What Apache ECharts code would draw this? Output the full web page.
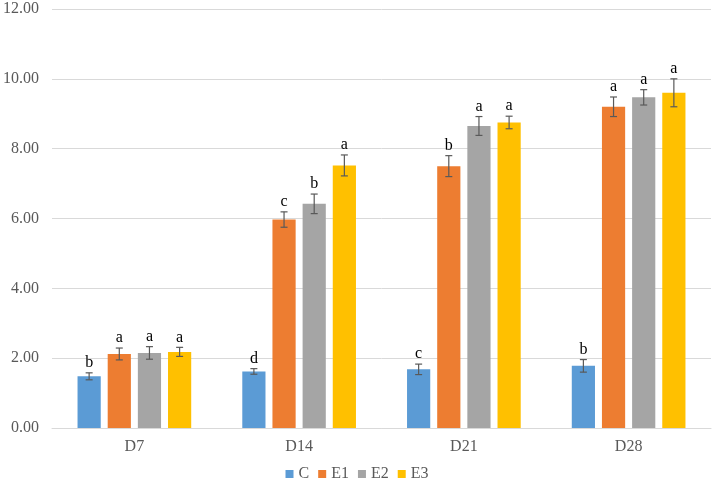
<!DOCTYPE html>
<html><head><meta charset="utf-8">
<script src="https://cdn.jsdelivr.net/npm/echarts@6/dist/echarts.min.js"></script>
<style>html,body{margin:0;padding:0;background:#fff}#c{width:714px;height:488px}</style>
</head><body><div id="c"></div>
<script>
var categories = ['D7', 'D14', 'D21', 'D28'];
var seriesNames = ['C', 'E1', 'E2', 'E3'];
var colors = ['#5B9BD5', '#ED7D31', '#A5A5A5', '#FFC000'];
var valC  = [1.48, 1.62, 1.68, 1.78];
var valE1 = [2.12, 5.97, 7.50, 9.20];
var valE2 = [2.15, 6.42, 8.65, 9.47];
var valE3 = [2.18, 7.52, 8.75, 9.60];
var errC  = [0.10, 0.08, 0.15, 0.18];
var errE1 = [0.17, 0.22, 0.30, 0.28];
var errE2 = [0.18, 0.28, 0.27, 0.22];
var errE3 = [0.13, 0.30, 0.18, 0.40];
var letC  = ['b', 'd', 'c', 'b'];
var letE1 = ['a', 'c', 'b', 'a'];
var letE2 = ['a', 'b', 'a', 'a'];
var letE3 = ['a', 'a', 'a', 'a'];
var yTicks = [0, 2, 4, 6, 8, 10, 12];

var vals = [valC, valE1, valE2, valE3];
var errs = [errC, errE1, errE2, errE3];
var lets = [letC, letE1, letE2, letE3];
var CAT_GAP = 0.31, BAR_GAP = 0.30;

var errData = [];
for (var s = 0; s < 4; s++) {
  for (var i = 0; i < categories.length; i++) {
    errData.push([i, vals[s][i] - errs[s][i], vals[s][i] + errs[s][i], s, lets[s][i]]);
  }
}

var font = 'Liberation Serif, Times New Roman, serif';
var series = seriesNames.map(function (n, s) {
  return {
    name: n, type: 'bar', data: vals[s],
    barGap: (BAR_GAP * 100) + '%', barCategoryGap: (CAT_GAP * 100) + '%',
    itemStyle: { color: colors[s] }
  };
});
series.push({
  type: 'custom', name: 'err', silent: true, z: 10,
  encode: { x: 0, y: [1, 2] },
  data: errData,
  renderItem: function (params, api) {
    var ci = api.value(0), lo = api.value(1), hi = api.value(2), s = api.value(3);
    var letter = errData[params.dataIndex][4];
    var W = api.size([1, 0])[0];
    var band = W * (1 - CAT_GAP);
    var w = band / (4 + 3 * BAR_GAP);
    var off = -band / 2 + s * w * (1 + BAR_GAP) + w / 2;
    var pLo = api.coord([ci, lo]), pHi = api.coord([ci, hi]);
    var x = pLo[0] + off, cap = 3.5;
    var st = { stroke: '#595959', lineWidth: 1.2 };
    return {
      type: 'group', children: [
        { type: 'line', shape: { x1: x, y1: pLo[1], x2: x, y2: pHi[1] }, style: st },
        { type: 'line', shape: { x1: x - cap, y1: pLo[1], x2: x + cap, y2: pLo[1] }, style: st },
        { type: 'line', shape: { x1: x - cap, y1: pHi[1], x2: x + cap, y2: pHi[1] }, style: st },
        { type: 'text', style: { x: x, y: pHi[1] - 2, text: letter, textAlign: 'center', textVerticalAlign: 'bottom',
          font: '16px ' + font, fill: '#000' } }
      ]
    };
  }
});

var chart = echarts.init(document.getElementById('c'), null, { renderer: 'canvas' });
chart.setOption({
  animation: false,
  backgroundColor: '#fff',
  grid: { left: 50, right: 3, top: 9, bottom: 60, containLabel: false },
  legend: {
    data: seriesNames, bottom: 1, left: 'center', itemWidth: 8, itemHeight: 8, itemGap: 9,
    icon: 'rect', textStyle: { color: '#595959', fontFamily: font, fontSize: 16 }
  },
  xAxis: {
    type: 'category', data: categories,
    axisLine: { lineStyle: { color: '#D9D9D9', width: 1 } },
    axisTick: { show: false },
    axisLabel: { color: '#595959', fontFamily: font, fontSize: 16, margin: 11 }
  },
  yAxis: {
    type: 'value', min: yTicks[0], max: yTicks[yTicks.length - 1], interval: yTicks[1] - yTicks[0],
    axisLine: { show: false }, axisTick: { show: false },
    splitLine: { lineStyle: { color: '#D9D9D9', width: 1 } },
    axisLabel: { color: '#595959', fontFamily: font, fontSize: 16, margin: 13,
      formatter: function (v) { return v.toFixed(2); } }
  },
  series: series
});
</script></body></html>
